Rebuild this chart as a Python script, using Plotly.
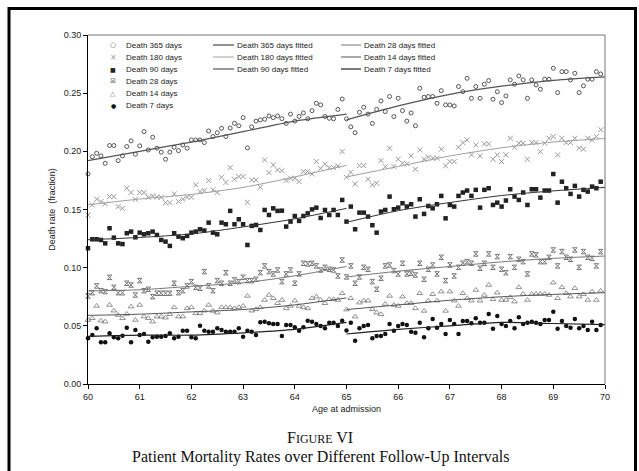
import plotly.graph_objects as go

# ---------------- data ----------------
# monthly observations, ages 60-65 (left of the break) and 65-70 (right)
d365_left = [0.1806,0.1954,0.1983,0.1961,0.1897,0.2050,0.2050,0.1920,0.1961,0.2041,
             0.2090,0.1975,0.2047,0.2169,0.2012,0.2121,0.2027,0.1993,0.1932,0.1993,
             0.2035,0.2006,0.2055,0.2027,0.2098,0.2098,0.2098,0.2075,0.2175,0.2127,
             0.2160,0.2198,0.2127,0.2200,0.2241,0.2220,0.2290,0.2030,0.2210,0.2260,
             0.2270,0.2276,0.2304,0.2290,0.2304,0.2281,0.2240,0.2320,0.2260,0.2300,
             0.2330,0.2280,0.2350,0.2413,0.2399,0.2300,0.2284,0.2280,0.2360,0.2450]
d365_right = [0.2279,0.2210,0.2160,0.2336,0.2379,0.2320,0.2240,0.2360,0.2433,0.2342,
              0.2471,0.2299,0.2456,0.2350,0.2260,0.2330,0.2220,0.2542,0.2465,0.2471,
              0.2471,0.2413,0.2522,0.2399,0.2399,0.2390,0.2557,0.2513,0.2628,0.2456,
              0.2557,0.2456,0.2577,0.2608,0.2448,0.2513,0.2419,0.2476,0.2614,0.2577,
              0.2648,0.2614,0.2456,0.2614,0.2571,0.2534,0.2620,0.2620,0.2714,0.2505,
              0.2685,0.2685,0.2614,0.2671,0.2505,0.2563,0.2620,0.2620,0.2685,0.2665]
d180_left = [0.1453,0.1539,0.1588,0.1568,0.1548,0.1611,0.1611,0.1525,0.1510,0.1683,
             0.1646,0.1588,0.1646,0.1646,0.1605,0.1617,0.1605,0.1605,0.1559,0.1559,
             0.1634,0.1568,0.1588,0.1605,0.1605,0.1711,0.1654,0.1663,0.1749,0.1669,
             0.1646,0.1777,0.1732,0.1860,0.1760,0.1783,0.1783,0.1562,0.1754,0.1754,
             0.1691,0.1926,0.1817,0.1883,0.1840,0.1834,0.1749,0.1769,0.1769,0.1740,
             0.1826,0.1826,0.1806,0.1912,0.1854,0.1889,0.1860,0.1860,0.1875,0.1998]
d180_right = [0.1777,0.1820,0.1720,0.1878,0.1878,0.1760,0.1711,0.1726,0.1921,0.1869,
              0.2027,0.1869,0.1932,0.1898,0.1892,0.1961,0.1846,0.2012,0.1932,0.1950,
              0.1941,0.1941,0.2018,0.1875,0.1912,0.1912,0.2035,0.2075,0.2098,0.1970,
              0.2055,0.1961,0.2064,0.2064,0.1932,0.1970,0.1912,0.1970,0.2112,0.2035,
              0.2070,0.2070,0.1932,0.2075,0.2075,0.1998,0.2070,0.2112,0.2127,0.1970,
              0.2112,0.2075,0.2075,0.2112,0.2027,0.2018,0.2112,0.2098,0.2127,0.2185]
d90_left = [0.1167,0.1244,0.1244,0.1238,0.1209,0.1339,0.1258,0.1209,0.1203,0.1296,
            0.1310,0.1261,0.1301,0.1287,0.1296,0.1310,0.1281,0.1238,0.1224,0.1187,
            0.1296,0.1267,0.1253,0.1273,0.1301,0.1310,0.1330,0.1319,0.1387,0.1301,
            0.1287,0.1387,0.1373,0.1488,0.1373,0.1416,0.1373,0.1195,0.1359,0.1367,
            0.1324,0.1496,0.1453,0.1510,0.1488,0.1490,0.1353,0.1396,0.1444,0.1402,
            0.1444,0.1467,0.1501,0.1516,0.1427,0.1496,0.1453,0.1496,0.1453,0.1582]
d90_right = [0.1396,0.1525,0.1330,0.1473,0.1473,0.1439,0.1365,0.1301,0.1482,0.1496,
             0.1611,0.1502,0.1516,0.1554,0.1525,0.1545,0.1439,0.1588,0.1462,0.1530,
             0.1510,0.1545,0.1617,0.1424,0.1539,0.1525,0.1617,0.1646,0.1663,0.1617,
             0.1669,0.1516,0.1669,0.1683,0.1539,0.1559,0.1525,0.1577,0.1674,0.1611,
             0.1582,0.1646,0.1539,0.1674,0.1674,0.1602,0.1663,0.1663,0.1805,0.1559,
             0.1739,0.1683,0.1634,0.1703,0.1611,0.1669,0.1654,0.1697,0.1683,0.1739]
d28_left = [0.0757,0.0785,0.0843,0.0802,0.0794,0.0917,0.0831,0.0785,0.0785,0.0866,
            0.0851,0.0765,0.0889,0.0802,0.0814,0.0751,0.0780,0.0780,0.0780,0.0780,
            0.0866,0.0785,0.0802,0.0843,0.0880,0.0831,0.0823,0.0966,0.0843,0.0802,
            0.0889,0.0866,0.0957,0.0866,0.0895,0.0880,0.0917,0.0889,0.0889,0.0900,
            0.0957,0.1015,0.0966,0.0946,0.0980,0.0880,0.0946,0.0980,0.0866,0.0946,
            0.1038,0.1032,0.1038,0.1015,0.0980,0.1003,0.0986,0.0980,0.0929,0.1066]
d28_right = [0.0920,0.1015,0.0866,0.0920,0.1003,0.0986,0.0880,0.0814,0.0909,0.1015,
             0.1023,0.0975,0.0946,0.1038,0.0946,0.0952,0.0937,0.1038,0.0900,0.0986,
             0.1023,0.0946,0.1089,0.0889,0.1023,0.0929,0.1003,0.1038,0.1052,0.1038,
             0.1118,0.0995,0.1038,0.1118,0.1003,0.1095,0.0986,0.0957,0.1095,0.1003,
             0.1072,0.1052,0.0946,0.1118,0.1110,0.1052,0.1052,0.1089,0.1152,0.1015,
             0.1138,0.1089,0.1072,0.1152,0.1003,0.1138,0.1089,0.1080,0.1015,0.1138]
d14_left = [0.0550,0.0565,0.0671,0.0544,0.0536,0.0679,0.0630,0.0593,0.0565,0.0602,
            0.0665,0.0550,0.0679,0.0579,0.0565,0.0536,0.0579,0.0579,0.0570,0.0599,
            0.0659,0.0579,0.0579,0.0650,0.0659,0.0607,0.0607,0.0630,0.0679,0.0628,
            0.0613,0.0659,0.0659,0.0659,0.0650,0.0659,0.0671,0.0757,0.0630,0.0642,
            0.0659,0.0722,0.0765,0.0737,0.0694,0.0722,0.0650,0.0671,0.0716,0.0671,
            0.0659,0.0650,0.0737,0.0751,0.0722,0.0694,0.0728,0.0728,0.0722,0.0780]
d14_right = [0.0640,0.0737,0.0579,0.0699,0.0716,0.0716,0.0642,0.0613,0.0599,0.0688,
             0.0757,0.0679,0.0671,0.0751,0.0694,0.0694,0.0650,0.0780,0.0628,0.0716,
             0.0771,0.0716,0.0794,0.0628,0.0794,0.0716,0.0671,0.0780,0.0737,0.0716,
             0.0808,0.0716,0.0765,0.0851,0.0728,0.0785,0.0722,0.0722,0.0745,0.0708,
             0.0831,0.0774,0.0722,0.0774,0.0774,0.0774,0.0774,0.0765,0.0871,0.0737,
             0.0831,0.0780,0.0751,0.0823,0.0751,0.0771,0.0722,0.0794,0.0722,0.0801]
d7_left = [0.0393,0.0421,0.0479,0.0358,0.0358,0.0436,0.0401,0.0393,0.0415,0.0484,
           0.0358,0.0464,0.0421,0.0430,0.0364,0.0401,0.0407,0.0407,0.0413,0.0436,
           0.0393,0.0407,0.0458,0.0458,0.0401,0.0393,0.0501,0.0458,0.0450,0.0450,
           0.0479,0.0464,0.0450,0.0450,0.0450,0.0479,0.0407,0.0458,0.0450,0.0421,
           0.0530,0.0536,0.0522,0.0516,0.0516,0.0413,0.0507,0.0507,0.0487,0.0458,
           0.0487,0.0544,0.0536,0.0516,0.0499,0.0479,0.0527,0.0527,0.0499,0.0544]
d7_right = [0.0460,0.0527,0.0372,0.0479,0.0499,0.0507,0.0393,0.0413,0.0413,0.0430,
            0.0516,0.0458,0.0499,0.0516,0.0507,0.0450,0.0441,0.0527,0.0401,0.0479,
            0.0559,0.0484,0.0516,0.0430,0.0551,0.0516,0.0430,0.0542,0.0542,0.0522,
            0.0565,0.0527,0.0527,0.0602,0.0476,0.0585,0.0516,0.0499,0.0542,0.0479,
            0.0573,0.0516,0.0527,0.0536,0.0527,0.0516,0.0551,0.0551,0.0622,0.0476,
            0.0542,0.0499,0.0484,0.0559,0.0479,0.0499,0.0464,0.0536,0.0464,0.0507]

# fitted curves (read at whole years)
fit_x_left = [60, 61, 62, 63, 64, 65]
fit_x_right = [65, 66, 67, 68, 69, 70]
f365_left = [0.192, 0.200, 0.208, 0.217, 0.226, 0.232]
f365_right = [0.227, 0.239, 0.249, 0.256, 0.261, 0.264]
f180_left = [0.154, 0.159, 0.163, 0.169, 0.178, 0.188]
f180_right = [0.178, 0.187, 0.196, 0.203, 0.208, 0.211]
f90_left = [0.124, 0.126, 0.129, 0.135, 0.142, 0.151]
f90_right = [0.139, 0.149, 0.156, 0.162, 0.166, 0.169]
f28_left = [0.080, 0.081, 0.084, 0.087, 0.093, 0.101]
f28_right = [0.092, 0.097, 0.101, 0.105, 0.108, 0.110]
f14_left = [0.059, 0.060, 0.062, 0.064, 0.068, 0.074]
f14_right = [0.064, 0.068, 0.072, 0.075, 0.077, 0.0785]
f7_left = [0.041, 0.042, 0.042, 0.044, 0.047, 0.053]
f7_right = [0.043, 0.047, 0.050, 0.053, 0.052, 0.051]

x_ticks = [60, 61, 62, 63, 64, 65, 66, 67, 68, 69, 70]
y_ticks = [0.00, 0.05, 0.10, 0.15, 0.20, 0.25, 0.30]

# ---------------- styling ----------------
FONT = "Liberation Sans, Arial, Helvetica, sans-serif"
W, H = 639, 471
L, R, T, B = 88, 34, 35, 87
PW, PH = W - L - R, H - T - B


def px2x(px):
    return (px - L) / PW


def py2y(py):
    return (H - B - py) / PH


def ages(start, n):
    return [start + k / 12 for k in range(n)]


scatter_specs = [
    ("Death 365 days", d365_left, d365_right, dict(symbol="circle-open", size=4, color="#555", line=dict(width=1, color="#555"))),
    ("Death 180 days", d180_left, d180_right, dict(symbol="x-thin-open", size=5, color="#999", line=dict(width=1, color="#999"))),
    ("Death 90 days", d90_left, d90_right, dict(symbol="square", size=4.5, color="#222", line=dict(width=0))),
    ("Death 28 days", d28_left, d28_right, dict(symbol="hourglass-open", size=4.5, color="#777", line=dict(width=1, color="#777"))),
    ("Death 14 days", d14_left, d14_right, dict(symbol="triangle-up-open", size=5, color="#777", line=dict(width=0.8, color="#777"))),
    ("Death 7 days", d7_left, d7_right, dict(symbol="circle", size=4.5, color="#111", line=dict(width=0))),
]

fit_specs = [
    ("Death 365 days fitted", f365_left, f365_right, "#555", 1.3),
    ("Death 180 days fitted", f180_left, f180_right, "#a0a0a0", 1.0),
    ("Death 90 days fitted", f90_left, f90_right, "#333", 1.0),
    ("Death 28 days fitted", f28_left, f28_right, "#777", 1.0),
    ("Death 14 days fitted", f14_left, f14_right, "#555", 1.0),
    ("Death 7 days fitted", f7_left, f7_right, "#222", 1.2),
]

fig = go.Figure()
for name, left, right, mk in scatter_specs:
    fig.add_trace(go.Scatter(x=ages(60, len(left)) + [None] + ages(65, len(right)),
                             y=left + [None] + right, mode="markers", name=name,
                             marker=mk, showlegend=False, cliponaxis=False))
for name, left, right, col, w in fit_specs:
    fig.add_trace(go.Scatter(x=fit_x_left + [None] + fit_x_right,
                             y=left + [None] + right, mode="lines", name=name,
                             line=dict(color=col, width=w, shape="spline", smoothing=0.8),
                             showlegend=False))

annotations = []
shapes = []

# legend column 1 (marker keys)
row_py = [45, 57, 69, 81.3, 93.5, 105.8]
glyphs = [("○", "#555", 7), ("×", "#999", 8), ("■", "#222", 6),
          ("⊠", "#777", 7), ("△", "#777", 7), ("●", "#111", 6)]
for (name, _, _, _), (g, c, s), py in zip(scatter_specs, glyphs, row_py):
    annotations.append(dict(x=px2x(113), y=py2y(py), xref="paper", yref="paper",
                            text=g, showarrow=False, xanchor="center", yanchor="middle",
                            font=dict(family="DejaVu Sans", size=s, color=c)))
    annotations.append(dict(x=px2x(124), y=py2y(py), xref="paper", yref="paper",
                            text=name, showarrow=False, xanchor="left", yanchor="middle",
                            font=dict(family=FONT, size=8, color="#222")))

# legend columns 2 and 3 (line keys)
for i, (name, _, _, col, w) in enumerate(fit_specs):
    x0, x1 = (213, 234) if i < 3 else (341, 361)
    py = row_py[i % 3]
    shapes.append(dict(type="line", xref="paper", yref="paper",
                       x0=px2x(x0), x1=px2x(x1), y0=py2y(py), y1=py2y(py),
                       line=dict(color=col, width=w)))
    annotations.append(dict(x=px2x(x1 + 1), y=py2y(py), xref="paper", yref="paper",
                            text=name, showarrow=False, xanchor="left", yanchor="middle",
                            font=dict(family=FONT, size=8, color="#222")))

# caption
annotations.append(dict(x=px2x(320), y=py2y(437), xref="paper", yref="paper",
                        text="F<span style='font-size:12px'>IGURE</span> VI", showarrow=False,
                        xanchor="center", yanchor="middle",
                        font=dict(family="Liberation Serif, serif", size=16, color="#111")))
annotations.append(dict(x=px2x(320), y=py2y(457), xref="paper", yref="paper",
                        text="Patient Mortality Rates over Different Follow-Up Intervals",
                        showarrow=False, xanchor="center", yanchor="middle",
                        font=dict(family="Liberation Serif, serif", size=16, color="#111")))

# plot box top/right edges (gray)
shapes.append(dict(type="line", xref="paper", yref="paper", x0=0, x1=1, y0=1, y1=1,
                   line=dict(color="#777", width=1)))
shapes.append(dict(type="line", xref="paper", yref="paper", x0=1, x1=1, y0=0, y1=1,
                   line=dict(color="#777", width=1)))
# outer frame of the figure page
shapes.append(dict(type="rect", xref="paper", yref="paper",
                   x0=px2x(9), x1=px2x(635.5), y0=py2y(8.5), y1=py2y(500),
                   line=dict(color="#000", width=3), fillcolor="rgba(0,0,0,0)"))

axis_common = dict(showgrid=False, zeroline=False, showline=True, linecolor="#000",
                   linewidth=1, ticks="outside", ticklen=4, tickwidth=1, tickcolor="#000",
                   tickfont=dict(family=FONT, size=9, color="#222"))

fig.update_layout(
    width=W, height=H, margin=dict(l=L, r=R, t=T, b=B, autoexpand=False),
    paper_bgcolor="white", plot_bgcolor="white",
    font=dict(family=FONT, size=9, color="#222"),
    xaxis=dict(range=[60, 70], tickvals=x_ticks, ticktext=[str(v) for v in x_ticks],
               title=dict(text="Age at admission", font=dict(family=FONT, size=9, color="#222"), standoff=4),
               **axis_common),
    yaxis=dict(range=[0, 0.30], tickvals=y_ticks, ticktext=[f"{v:.2f}" for v in y_ticks],
               title=dict(text="Death rate  (fraction)", font=dict(family=FONT, size=9, color="#222"), standoff=6),
               **axis_common),
    annotations=annotations, shapes=shapes, showlegend=False,
)

fig.write_html("out.html")
